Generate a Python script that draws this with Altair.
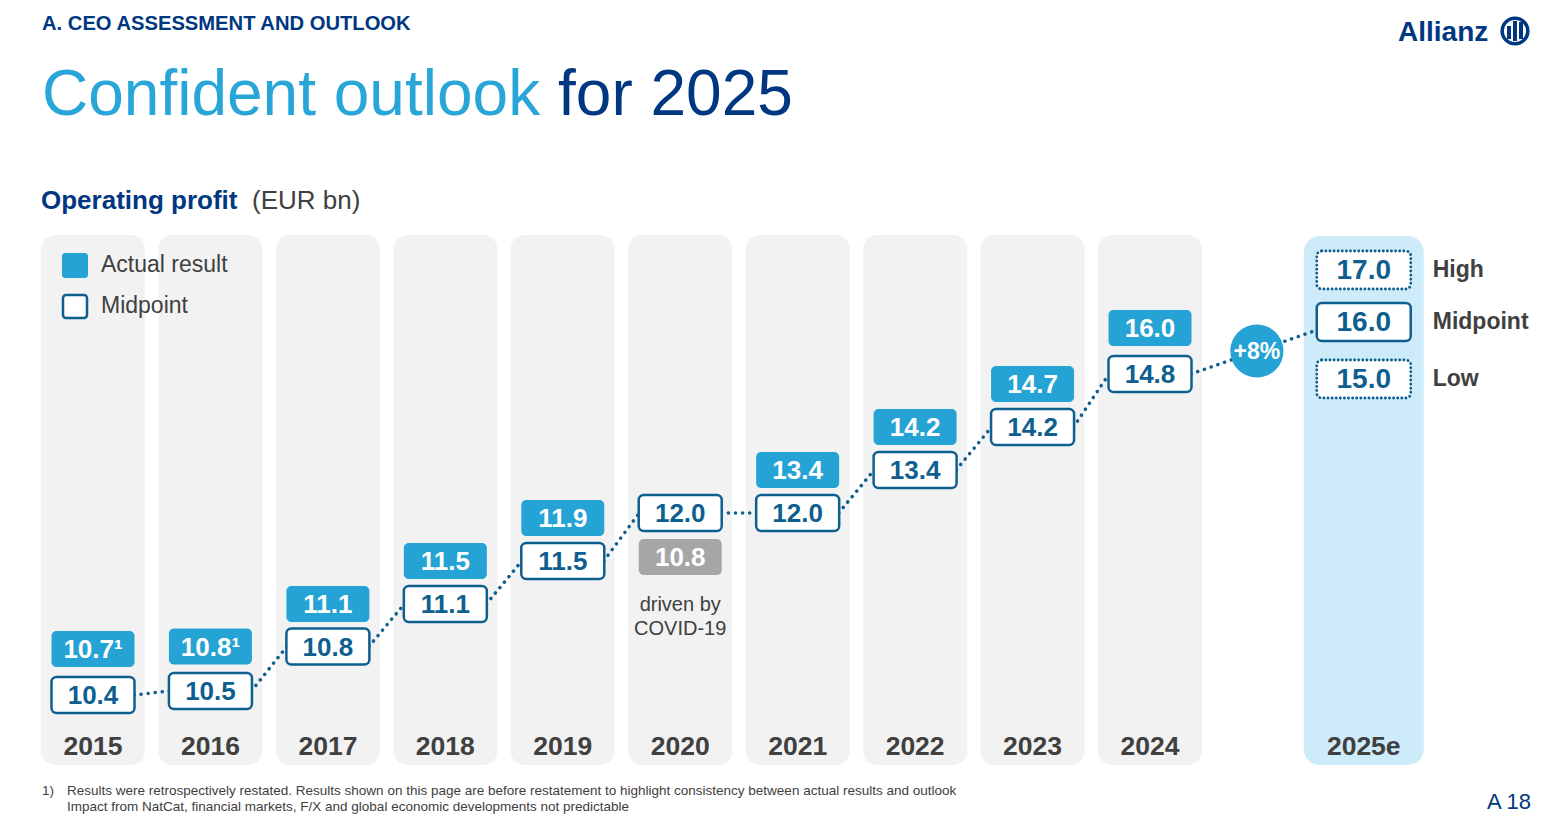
import altair as alt
import pandas as pd

# ---------------- data ----------------
years = ["2015", "2016", "2017", "2018", "2019", "2020", "2021", "2022", "2023", "2024"]
midpoint = [10.4, 10.5, 10.8, 11.1, 11.5, 12.0, 12.0, 13.4, 14.2, 14.8]
actual = [10.7, 10.8, 11.1, 11.5, 11.9, 10.8, 13.4, 14.2, 14.7, 16.0]
restated = [True, True, False, False, False, False, False, False, False, False]
covid_year = "2020"
covid_note = "driven by\nCOVID-19"
outlook_year = "2025e"
outlook_levels = ["High", "Midpoint", "Low"]
outlook_values = [17.0, 16.0, 15.0]

header = "A. CEO ASSESSMENT AND OUTLOOK"
title_a = "Confident outlook"
title_b = "for 2025"
subtitle_a = "Operating profit"
subtitle_b = "(EUR bn)"
legend_labels = ["Actual result", "Midpoint"]
footnote_num = "1)"
footnote_1 = ("Results were retrospectively restated. Results shown on this page are before "
              "restatement to highlight consistency between actual results and outlook")
footnote_2 = "Impact from NatCat, financial markets, F/X and global economic developments not predictable"
page_no = "A 18"
brand = "Allianz"

# ---------------- style ----------------
NAVY = "#003781"
CYAN = "#25a3d4"
DARK = "#0e5f8f"
GREY_TXT = "#404040"
PANEL = "#f2f2f2"
PANEL_OUT = "#cdebf8"
COVID_GREY = "#a6a6a6"
FONT = "Liberation Sans"
W, H = 1528, 806
OUT_SLOT = 10.82  # horizontal slot of the outlook column

xs = alt.Scale(domain=[0, 9], range=[85, 1142])
ys = alt.Scale(
    domain=[10.4, 10.5, 10.7, 10.8, 11.1, 11.5, 11.9, 12.0, 13.4, 14.2, 14.7, 14.8, 16.0],
    range=[687, 683, 641, 638.5, 596, 553, 510, 505, 462, 419, 376, 366, 320],
    zero=False, nice=False)
ys_out = alt.Scale(domain=[15.0, 16.0, 17.0], range=[371, 314, 262], zero=False, nice=False)

# ---------------- tables ----------------
df = pd.DataFrame({
    "year": years,
    "idx": list(range(len(years))),
    "mid": midpoint,
    "act": actual,
    "mid_label": [f"{v:.1f}" for v in midpoint],
    "act_label": [f"{v:.1f}" + ("\u00b9" if r else "") for v, r in zip(actual, restated)],
    "covid": [y == covid_year for y in years],
})
df_act = df[~df["covid"]]
df_cov = df[df["covid"]]

seg = pd.DataFrame({
    "a": list(range(len(years))),
    "b": list(range(1, len(years))) + [OUT_SLOT],
    "m1": midpoint,
    "m2": midpoint[1:] + [outlook_values[1]],
})

growth = round((outlook_values[1] / midpoint[-1] - 1) * 100)
bubble = pd.DataFrame({
    "idx": [(len(years) - 1 + OUT_SLOT) / 2],
    "val": [(midpoint[-1] + outlook_values[1]) / 2],
    "label": [f"+{growth}%"],
})

out = pd.DataFrame({
    "idx": [OUT_SLOT] * 3,
    "level": outlook_levels,
    "val": outlook_values,
    "label": [f"{v:.1f}" for v in outlook_values],
})
out_mid = out[out["level"] == "Midpoint"]
out_rng = out[out["level"] != "Midpoint"]

X = alt.X("idx:Q", scale=xs, axis=None)

# ---------------- layers ----------------
bg = alt.Chart(df).mark_rect(fill=PANEL, cornerRadius=14, xOffset=-52, x2Offset=52).encode(
    x=X, x2=alt.X2("idx"), y=alt.value(227), y2=alt.value(757))
bg_out = alt.Chart(out_mid).mark_rect(fill=PANEL_OUT, cornerRadius=16, xOffset=-60, x2Offset=60).encode(
    x=X, x2=alt.X2("idx"), y=alt.value(228), y2=alt.value(757))

year_txt = alt.Chart(df).mark_text(font=FONT, fontSize=26.5, fontWeight="bold", color=GREY_TXT,
                                   baseline="middle").encode(x=X, y=alt.value(739), text="year:N")
year_out = alt.Chart(out_mid.assign(year=outlook_year)).mark_text(
    font=FONT, fontSize=26.5, fontWeight="bold", color=GREY_TXT, baseline="middle").encode(
    x=X, y=alt.value(739), text="year:N")

conn = alt.Chart(seg).mark_rule(color=DARK, strokeWidth=3.5, strokeDash=[0.1, 7], strokeCap="round",
                                xOffset=41, x2Offset=-41).encode(
    x=alt.X("a:Q", scale=xs, axis=None), x2=alt.X2("b"),
    y=alt.Y("m1:Q", scale=ys, axis=None), y2=alt.Y2("m2"))

bub = alt.Chart(bubble).mark_circle(size=2827, color=CYAN, opacity=1).encode(
    x=X, y=alt.Y("val:Q", scale=ys, axis=None))
bub_txt = alt.Chart(bubble).mark_text(font=FONT, fontSize=23, fontWeight="bold", color="white",
                                      baseline="middle", dy=1).encode(
    x=X, y=alt.Y("val:Q", scale=ys, axis=None), text="label:N")

box_kw = dict(cornerRadius=5, xOffset=-41.5, x2Offset=41.5, yOffset=-18, y2Offset=18)
mid_box = alt.Chart(df).mark_rect(fill="white", stroke=DARK, strokeWidth=2.5, **box_kw).encode(
    x=X, x2=alt.X2("idx"), y=alt.Y("mid:Q", scale=ys, axis=None), y2=alt.Y2("mid"))
act_box = alt.Chart(df_act).mark_rect(fill=CYAN, **box_kw).encode(
    x=X, x2=alt.X2("idx"), y=alt.Y("act:Q", scale=ys, axis=None), y2=alt.Y2("act"))
cov_box = alt.Chart(df_cov).mark_rect(fill=COVID_GREY, cornerRadius=5, xOffset=-41.5, x2Offset=41.5,
                                      yOffset=26, y2Offset=62).encode(
    x=X, x2=alt.X2("idx"), y=alt.Y("mid:Q", scale=ys, axis=None), y2=alt.Y2("mid"))

txt_kw = dict(font=FONT, fontSize=26, fontWeight="bold", baseline="middle")
mid_txt = alt.Chart(df).mark_text(color=DARK, dy=1, **txt_kw).encode(
    x=X, y=alt.Y("mid:Q", scale=ys, axis=None), text="mid_label:N")
act_txt = alt.Chart(df_act).mark_text(color="white", dy=1, **txt_kw).encode(
    x=X, y=alt.Y("act:Q", scale=ys, axis=None), text="act_label:N")
cov_txt = alt.Chart(df_cov).mark_text(color="white", dy=45, **txt_kw).encode(
    x=X, y=alt.Y("mid:Q", scale=ys, axis=None), text="act_label:N")
cov_note = alt.Chart(df_cov.assign(note=covid_note)).mark_text(
    font=FONT, fontSize=20, color=GREY_TXT, baseline="middle", lineBreak="\n", lineHeight=24).encode(
    x=X, y=alt.value(597), text="note:N")

out_kw = dict(cornerRadius=5, xOffset=-47, x2Offset=47, yOffset=-19, y2Offset=19, fill="white")
out_mid_box = alt.Chart(out_mid).mark_rect(stroke=DARK, strokeWidth=2.5, **out_kw).encode(
    x=X, x2=alt.X2("idx"), y=alt.Y("val:Q", scale=ys_out, axis=None), y2=alt.Y2("val"))
out_rng_box = alt.Chart(out_rng).mark_rect(stroke=DARK, strokeWidth=2.8, strokeDash=[0.1, 4],
                                           strokeCap="round", **out_kw).encode(
    x=X, x2=alt.X2("idx"), y=alt.Y("val:Q", scale=ys_out, axis=None), y2=alt.Y2("val"))
out_txt = alt.Chart(out).mark_text(font=FONT, fontSize=28, fontWeight="bold", color=DARK,
                                   baseline="middle", dy=1).encode(
    x=X, y=alt.Y("val:Q", scale=ys_out, axis=None), text="label:N")
out_lvl = alt.Chart(out).mark_text(font=FONT, fontSize=23, fontWeight="bold", color=GREY_TXT,
                                   baseline="middle", align="left", dx=69).encode(
    x=X, y=alt.Y("val:Q", scale=ys_out, axis=None), text="level:N")

# legend
leg_act = alt.Chart(out_mid).mark_rect(fill=CYAN, cornerRadius=3).encode(
    x=alt.value(54), x2=alt.value(80), y=alt.value(245), y2=alt.value(270))
leg_mid = alt.Chart(out_mid).mark_rect(fill="white", stroke=DARK, strokeWidth=2.5, cornerRadius=3).encode(
    x=alt.value(55), x2=alt.value(79), y=alt.value(287), y2=alt.value(310))
leg_df = pd.DataFrame({"t": legend_labels, "y": [257, 298]})
leg_txt = alt.Chart(leg_df).mark_text(font=FONT, fontSize=23, color=GREY_TXT, align="left",
                                      baseline="middle").encode(
    x=alt.value(93), y=alt.Y("y:Q", scale=None), text="t:N")


def label(text, x, y, size, color, weight="normal", align="left"):
    return alt.Chart(pd.DataFrame({"t": [text]})).mark_text(
        font=FONT, fontSize=size, color=color, fontWeight=weight, align=align,
        baseline="alphabetic").encode(x=alt.value(x), y=alt.value(y), text="t:N")


texts = [
    label(header, 34, 22, 20.2, NAVY, "bold"),
    label(title_a, 34, 107, 64, "#29a6d8"),
    label(title_b, 550, 107, 64, NAVY),
    label(subtitle_a, 33, 201, 26, NAVY, "bold"),
    label(subtitle_b, 244, 201, 26, GREY_TXT),
    label(footnote_num, 34, 787, 13.5, GREY_TXT),
    label(footnote_1, 59, 787, 13.5, GREY_TXT),
    label(footnote_2, 59, 803, 13.5, GREY_TXT),
    label(page_no, 1523, 801, 22, NAVY, align="right"),
    label(brand, 1390, 33, 28, NAVY, "bold"),
]

logo_ring = alt.Chart(out_mid).mark_point(shape="circle", filled=False, size=660, stroke=NAVY,
                                          strokeWidth=3.5, opacity=1).encode(
    x=alt.value(1507), y=alt.value(23))
logo_bars = [
    alt.Chart(out_mid).mark_rule(color=NAVY, strokeWidth=4).encode(
        x=alt.value(bx), y=alt.value(t), y2=alt.value(b))
    for bx, t, b in [(1501, 18, 31), (1507, 13, 33), (1513, 14, 31)]
]

chart = alt.layer(
    bg, bg_out, year_txt, year_out,
    leg_act, leg_mid, leg_txt,
    conn, bub, bub_txt,
    mid_box, act_box, cov_box, mid_txt, act_txt, cov_txt, cov_note,
    out_mid_box, out_rng_box, out_txt, out_lvl,
    *texts, logo_ring, *logo_bars,
).resolve_scale(y="independent").properties(
    width=W, height=H, autosize=alt.AutoSizeParams(type="none"), padding=0, background="white"
).configure_view(strokeWidth=0)

chart.save("out.html", embed_options={"renderer": "svg", "actions": False})
